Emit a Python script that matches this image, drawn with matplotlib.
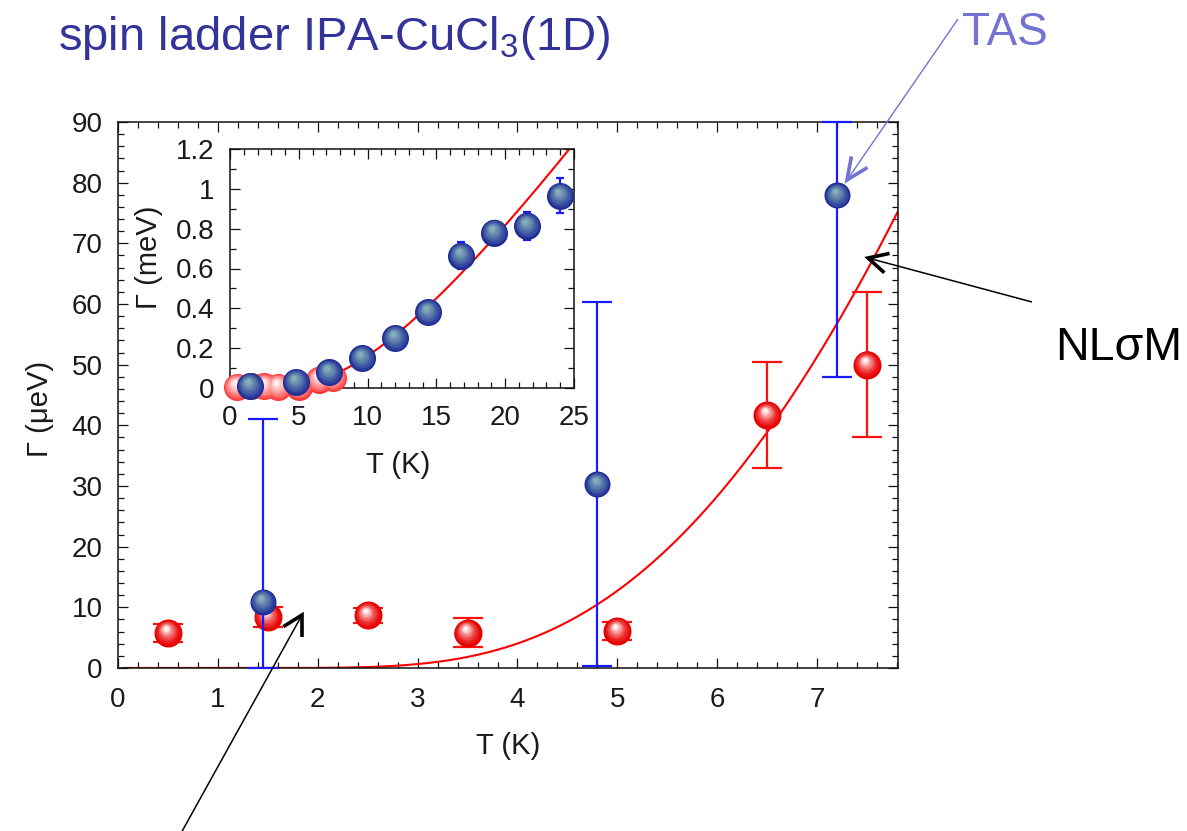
import numpy as np
import matplotlib
matplotlib.use("Agg")
import matplotlib.pyplot as plt
from matplotlib.transforms import offset_copy
from matplotlib.lines import Line2D
from matplotlib.ticker import MultipleLocator
from matplotlib.colors import to_rgb

plt.rcParams['font.family'] = ['Liberation Sans', 'DejaVu Sans']
plt.rcParams['mathtext.fontset'] = 'custom'
plt.rcParams['mathtext.rm'] = 'Liberation Sans'
plt.rcParams['mathtext.it'] = 'Liberation Sans:italic'

# ---- main panel: linewidth Γ in µeV vs temperature T in K ----
red_T = [0.5, 1.5, 2.5, 3.5, 5.0, 6.5, 7.5]
red_G = [5.8, 8.4, 8.7, 5.8, 6.1, 41.7, 50.0]
red_err = [1.5, 1.6, 1.2, 2.4, 1.5, 8.8, 12.0]

tas_T = [1.45, 4.8, 7.2]
tas_G = [10.9, 30.3, 77.9]
tas_err = [30.2, 30.0, 30.0]

# ---- inset: Γ in meV over a wider temperature range ----
ins_T = [1.45, 4.8, 7.2, 9.6, 12.0, 14.4, 16.8, 19.2, 21.6, 24.0]
ins_G = [0.011, 0.030, 0.078, 0.15, 0.25, 0.38, 0.665, 0.78, 0.815, 0.965]
ins_err = [0.01, 0.01, 0.02, 0.03, 0.03, 0.03, 0.07, 0.03, 0.07, 0.088]

# NLσM thermal broadening  Γ = A·T·exp(-Δ/T)
A_meV_per_K = 0.103
gap_K = 18.5

main_xticks = [0, 1, 2, 3, 4, 5, 6, 7]
main_yticks = [0, 10, 20, 30, 40, 50, 60, 70, 80, 90]
ins_xticks = [0, 5, 10, 15, 20, 25]
ins_yticks = [0, 0.2, 0.4, 0.6, 0.8, 1, 1.2]
ins_yticklabels = ['0', '0.2', '0.4', '0.6', '0.8', '1', '1.2']

W, H = 1187, 831
fig = plt.figure(figsize=(W / 100, H / 100), dpi=100)
fig.patch.set_facecolor('white')

TICK_FS = 20
LABEL_FS = 21


def px_box(x0, y0_top, x1, y1_bottom):
    return [x0 / W, 1 - y1_bottom / H, (x1 - x0) / W, (y1_bottom - y0_top) / H]


def nlsm(T):
    T = np.asarray(T, float)
    return A_meV_per_K * T * np.exp(-gap_K / T)


def spheres(ax, xs, ys, diam_px, rim, core, zorder, clip=True, n=16, gamma=0.9,
            shrink=0.85):
    rim = np.array(to_rgb(rim))
    core = np.array(to_rgb(core))
    R = diam_px / 2.0
    for i in range(n):
        t = i / (n - 1)
        r = R * (1 - shrink * t)
        shift = (R - r) * 0.38
        tr = offset_copy(ax.transData, fig=ax.figure, x=-shift * 0.5, y=shift,
                         units='dots')
        w = t ** gamma
        c = rim * (1 - w) + core * w
        ax.scatter(xs, ys, s=(2 * r * 0.72) ** 2, color=c, transform=tr,
                   zorder=zorder, linewidths=0, clip_on=clip)


def style_axes(ax, xmaj, xmin, ymaj, ymin, fs, xpad, ypad):
    for s in ax.spines.values():
        s.set_linewidth(1.1)
        s.set_color('#111111')
    ax.xaxis.set_major_locator(MultipleLocator(xmaj))
    ax.xaxis.set_minor_locator(MultipleLocator(xmin))
    ax.yaxis.set_major_locator(MultipleLocator(ymaj))
    ax.yaxis.set_minor_locator(MultipleLocator(ymin))
    ax.tick_params(which='both', direction='in', top=True, right=True,
                   width=0.9, color='#111111', labelsize=fs, labelcolor='#1a1a1a')
    ax.tick_params(which='major', length=7.0)
    ax.tick_params(which='minor', length=4.0)
    ax.tick_params(axis='x', pad=xpad)
    ax.tick_params(axis='y', pad=ypad)


# ---------------- main axes ----------------
ax = fig.add_axes(px_box(118, 122, 898, 668))
style_axes(ax, 1, 0.2, 10, 2, TICK_FS, 13.5, 11)
ax.set_xticks(main_xticks)
ax.set_yticks(main_yticks)
ax.set_xlim(0, 7.81)
ax.set_ylim(0, 90)

Tc = np.linspace(0.05, 7.81, 400)
ax.plot(Tc, nlsm(Tc) * 1000, color='#ff0000', lw=1.5, zorder=2)

ax.errorbar(red_T, red_G, yerr=red_err, fmt='none', ecolor='#ff1010',
            elinewidth=1.6, capsize=10.5, capthick=1.6, zorder=3)
spheres(ax, red_T, red_G, 28, '#e80000', '#fff4f4', zorder=4, gamma=1.6)

tG = np.array(tas_G)
te = np.array(tas_err)
lo = np.clip(tG - te, 0, 90)
hi = np.clip(tG + te, 0, 90)
ax.errorbar(tas_T, tas_G, yerr=[tG - lo, hi - tG], fmt='none', ecolor='#1a1aff',
            elinewidth=1.6, capsize=10.5, capthick=1.6, zorder=5, clip_on=False)
spheres(ax, tas_T, tas_G, 26, '#1a2896', '#86b0ba', zorder=6, gamma=0.95)

ax.set_xlabel('T (K)', fontsize=LABEL_FS, color='#1a1a1a')
ax.set_ylabel('Γ (μeV)', fontsize=LABEL_FS, color='#1a1a1a')
ax.xaxis.set_label_coords(0.5, -0.118)
ax.yaxis.set_label_coords(-0.082, 0.475)

# ---------------- inset ----------------
ai = fig.add_axes(px_box(230, 149, 574, 388))
style_axes(ai, 5, 1, 0.2, 0.1, TICK_FS, 12.5, 11)
ai.set_xticks(ins_xticks)
ai.set_yticks(ins_yticks)
ai.set_yticklabels(ins_yticklabels)
ai.set_xlim(0, 25)
ai.set_ylim(0, 1.2)

Ti = np.linspace(0.3, 25, 400)
ai.plot(Ti, nlsm(Ti), color='#ff0000', lw=1.5, zorder=2)
spheres(ai, red_T, np.array(red_G) / 1000, 27, '#ff3030', '#fff0f0', zorder=3,
        clip=False, gamma=0.8)
ai.errorbar(ins_T, ins_G, yerr=ins_err, fmt='none', ecolor='#1a1aff',
            elinewidth=1.6, capsize=3, capthick=1.6, zorder=4)
spheres(ai, ins_T, ins_G, 27, '#1a2896', '#86b0ba', zorder=5, clip=False,
        gamma=0.95)

ai.set_xlabel('T (K)', fontsize=LABEL_FS, color='#1a1a1a')
ai.set_ylabel('Γ (meV)', fontsize=LABEL_FS, color='#1a1a1a')
ai.xaxis.set_label_coords(0.49, -0.265)
ai.yaxis.set_label_coords(-0.196, 0.545)


# ---------------- annotations (figure pixel coords, y from top) ----------------
def arrow(x0, y0, x1, y1, color, lw, head_lw, head_len, head_ang):
    fig.add_artist(Line2D([x0, x1], [H - y0, H - y1], color=color, lw=lw,
                          transform=None, solid_capstyle='butt'))
    d = np.array([x0 - x1, y0 - y1], float)
    d /= np.hypot(*d)
    a = np.deg2rad(head_ang)
    pts = []
    for s in (-1, 1):
        c, sn = np.cos(s * a), np.sin(s * a)
        v = np.array([c * d[0] - sn * d[1], sn * d[0] + c * d[1]]) * head_len
        pts.append((x1 + v[0], y1 + v[1]))
    xs = [pts[0][0], x1, pts[1][0]]
    ys = [H - pts[0][1], H - y1, H - pts[1][1]]
    fig.add_artist(Line2D(xs, ys, color=color, lw=head_lw, transform=None,
                          solid_capstyle='butt', solid_joinstyle='miter'))


fig.text(58 / W, 1 - 50 / H, 'spin ladder IPA-CuCl$_3$(1D)', fontsize=34,
         color='#33339a', ha='left', va='baseline')

tas_col = '#7373d2'
fig.text(962 / W, 1 - 45 / H, 'TAS', fontsize=33, color=tas_col, ha='left',
         va='baseline')
arrow(958, 19, 847, 180, tas_col, 1.0, 2.6, 24, 24)

fig.text(1055 / W, 1 - 360 / H, 'NLσM', fontsize=33.5, color='black', ha='left',
         va='baseline')
arrow(1032, 302, 868, 258, 'black', 1.1, 2.6, 22, 27)

arrow(180, 835, 302, 615, 'black', 1.1, 2.6, 22, 29)

fig.savefig('out.png', dpi=100, facecolor='white')
